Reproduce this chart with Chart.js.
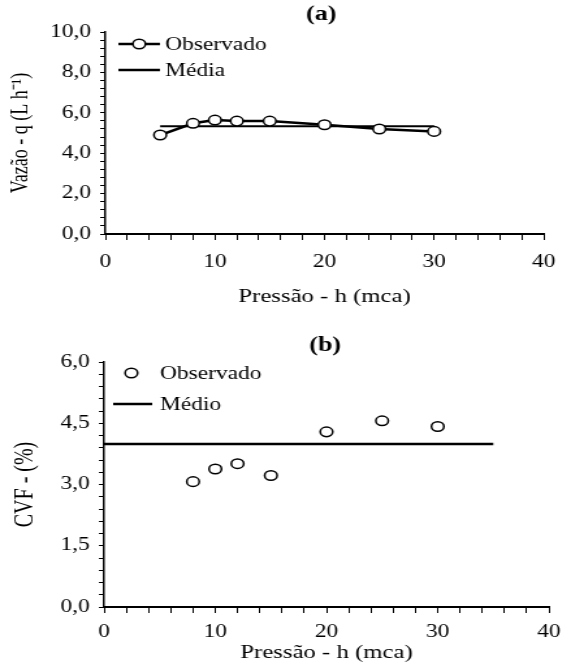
<!DOCTYPE html>
<html>
<head>
<meta charset="utf-8">
<script src="https://cdn.jsdelivr.net/npm/chart.js@4.4.1/dist/chart.umd.min.js"></script>
<style>
    html, body { margin: 0; padding: 0; background: #fff; overflow: hidden; }
    /* the original figure is stretched sideways, so the canvases are too */
    .panel { position: absolute; left: 0; width: 439px; transform-origin: 0 0; transform: scaleX(1.3007); }
    #boxA { top: 0; height: 310px; }
    #boxB { top: 320px; height: 346px; }
</style>
</head>
<body>
<div class="panel" id="boxA"><canvas id="chartA" width="439" height="310"></canvas></div>
<div class="panel" id="boxB"><canvas id="chartB" width="439" height="346"></canvas></div>
<script>
// (a) flow rate vs pressure
var pressureA = [5, 8, 10, 12, 15, 20, 25, 30];
var flowObserved = [4.90, 5.48, 5.64, 5.59, 5.59, 5.41, 5.20, 5.08];
var flowMeanX = [5, 30];
var flowMeanY = [5.33, 5.33];
var flowTicks = [0, 2, 4, 6, 8, 10];

// (b) CVF vs pressure
var pressureB = [8, 10, 12, 15, 20, 25, 30];
var cvfObserved = [3.07, 3.38, 3.51, 3.22, 4.29, 4.56, 4.42];
var cvfMeanX = [0, 35];
var cvfMeanY = [3.99, 3.99];
var cvfTicks = [0, 1.5, 3, 4.5, 6];

var pressureTicks = [0, 10, 20, 30, 40];

var SERIF = '"Liberation Serif", "Times New Roman", serif';

function toPoints(xs, ys) {
    return xs.map(function (x, i) { return { x: x, y: ys[i] }; });
}

function commaLabel(value, majors) {
    var v = Math.round(value * 10) / 10;
    for (var i = 0; i < majors.length; i++) {
        if (Math.abs(majors[i] - v) < 0.001) {
            return v.toFixed(1).replace('.', ',');
        }
    }
    return '';
}

// panel letter and the little legend inside the plot
var panelDecor = {
    id: 'panelDecor',
    afterDraw: function (chart, args, opts) {
        var ctx = chart.ctx;
        ctx.save();
        ctx.fillStyle = '#000';
        ctx.strokeStyle = '#000';
        ctx.textBaseline = 'middle';

        ctx.font = 'bold 20px ' + SERIF;
        ctx.textAlign = 'center';
        ctx.fillText(opts.label, opts.labelX, opts.labelY);

        ctx.font = '18px ' + SERIF;
        ctx.textAlign = 'left';
        opts.items.forEach(function (item) {
            if (item.line) {
                ctx.lineWidth = 2.5;
                ctx.beginPath();
                ctx.moveTo(item.x1, item.y);
                ctx.lineTo(item.x2, item.y);
                ctx.stroke();
            }
            if (item.marker) {
                ctx.lineWidth = 1.5;
                ctx.beginPath();
                ctx.arc(item.mx, item.y, 4.8, 0, Math.PI * 2);
                ctx.fillStyle = '#fff';
                ctx.fill();
                ctx.stroke();
                ctx.fillStyle = '#000';
            }
            ctx.fillText(item.text, item.tx, item.y + 1);
        });
        ctx.restore();
    }
};

function xScale(tickPad, height) {
    return {
        type: 'linear',
        min: 0,
        max: 40,
        ticks: {
            stepSize: 2,
            autoSkip: false,
            maxRotation: 0,
            color: '#000',
            padding: tickPad,
            font: { family: SERIF, size: 18 },
            callback: function (v) { return pressureTicks.indexOf(v) >= 0 ? String(v) : ''; }
        },
        grid: { drawOnChartArea: false, drawTicks: true, tickLength: 6, color: '#000', lineWidth: 1 },
        border: { display: true, color: '#000', width: 2 },
        title: {
            display: true,
            text: 'Pressão - h (mca)',
            color: '#000',
            font: { family: SERIF, size: 19 },
            padding: { top: 2, bottom: 2 }
        },
        afterFit: function (scale) { scale.height = height; }
    };
}

function yScale(max, step, majors, title, titleSize, titlePad, width) {
    return {
        type: 'linear',
        min: 0,
        max: max,
        ticks: {
            stepSize: step,
            autoSkip: false,
            color: '#000',
            padding: 7,
            font: { family: SERIF, size: 18 },
            callback: function (v) { return commaLabel(v, majors); }
        },
        grid: { drawOnChartArea: false, drawTicks: true, tickLength: 4, color: '#000', lineWidth: 1 },
        border: { display: true, color: '#000', width: 1.5 },
        title: {
            display: true,
            text: title,
            color: '#000',
            font: { family: SERIF, size: titleSize },
            padding: { top: titlePad, bottom: titlePad }
        },
        afterFit: function (scale) { scale.width = width; }
    };
}

new Chart(document.getElementById('chartA'), {
    type: 'scatter',
    data: {
        datasets: [{
            label: 'Observado',
            data: toPoints(pressureA, flowObserved),
            showLine: true,
            borderColor: '#000',
            borderWidth: 2.5,
            pointRadius: 4.8,
            pointBackgroundColor: '#fff',
            pointBorderColor: '#000',
            pointBorderWidth: 1.5,
            order: 0
        }, {
            label: 'Média',
            data: toPoints(flowMeanX, flowMeanY),
            showLine: true,
            borderColor: '#000',
            borderWidth: 2,
            pointRadius: 0,
            order: 1
        }]
    },
    options: {
        responsive: false,
        animation: false,
        layout: { padding: { left: 0, right: 21, top: 32, bottom: 0 } },
        scales: {
            x: xScale(11, 76),
            y: yScale(10, 0.4, flowTicks, 'Vazão - q (L h⁻¹)', 18, 5, 81)
        },
        plugins: {
            legend: { display: false },
            tooltip: { enabled: false },
            panelDecor: {
                label: '(a)', labelX: 247, labelY: 15,
                items: [
                    { text: 'Observado', line: true, marker: true, x1: 91, x2: 123, mx: 107, tx: 127, y: 44 },
                    { text: 'Média', line: true, marker: false, x1: 91, x2: 123, tx: 127, y: 70 }
                ]
            }
        }
    },
    plugins: [panelDecor]
});

new Chart(document.getElementById('chartB'), {
    type: 'scatter',
    data: {
        datasets: [{
            label: 'Observado',
            data: toPoints(pressureB, cvfObserved),
            showLine: false,
            pointRadius: 4.8,
            pointBackgroundColor: '#fff',
            pointBorderColor: '#000',
            pointBorderWidth: 1.5,
            order: 0
        }, {
            label: 'Médio',
            data: toPoints(cvfMeanX, cvfMeanY),
            showLine: true,
            borderColor: '#000',
            borderWidth: 2.5,
            pointRadius: 0,
            order: 1
        }]
    },
    options: {
        responsive: false,
        animation: false,
        layout: { padding: { left: 0, right: 14, top: 42, bottom: 0 } },
        scales: {
            x: xScale(8, 59),
            y: yScale(6, 0.3, cvfTicks, 'CVF - (%)', 20, 8, 80)
        },
        plugins: {
            legend: { display: false },
            tooltip: { enabled: false },
            panelDecor: {
                label: '(b)', labelX: 250, labelY: 26,
                items: [
                    { text: 'Observado', line: false, marker: true, mx: 101, tx: 123, y: 53 },
                    { text: 'Médio', line: true, marker: false, x1: 87, x2: 117, tx: 123, y: 84 }
                ]
            }
        }
    },
    plugins: [panelDecor]
});
</script>
</body>
</html>
